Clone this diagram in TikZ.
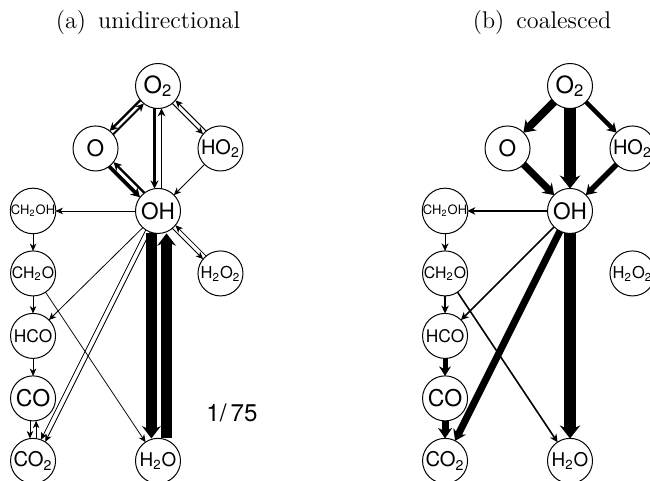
\documentclass[tikz,border=0pt]{standalone}
\usepackage{fontspec}
\newfontfamily\helv{TeX Gyre Heros}
\usetikzlibrary{positioning,calc,arrows.meta}

\tikzset{
  species/.style={circle, draw, line width=0.45pt, minimum size=20.5pt, inner sep=0pt},
  txt/.style={font=\helv\fontsize{#1}{#1}\selectfont},
  flux/.style={-{Stealth[length=3.2pt 0.5, width=2.5pt 1.25, inset=0.9pt 0.2]}, shorten <=10.2pt, shorten >=10.2pt},
  lw/.style={line width=#1*0.455pt},
  caption/.style={font=\fontsize{11}{13}\selectfont}
}
% offset arrow between two species: [style]{from}{to}{offset to the right}
\newcommand{\flux}[4][]{\draw[flux,#1] ($(#2)!#4!-90:(#3)$) -- ($(#3)!#4!90:(#2)$);}

\begin{document}
\begin{tikzpicture}[x=0.016cm, y=-0.016cm, node distance=1cm and 1cm, on grid]
        \useasboundingbox (0,0) rectangle (650,480);

        % Captions
        \node[caption] (capa) at (148,22) {(a)\enspace unidirectional};
        \node[caption] (capb) at (542,22) {(b)\enspace coalesced};

        % Species (a)
        \node[species, txt=10.8] (O2a) at (158,86) {O\textsubscript{2}};
        \node[species, txt=10.3, below left=of O2a] (Oa) {O};
        \node[species, txt=9.1, below right=of O2a] (HO2a) {HO\textsubscript{2}};
        \node[species, txt=10.3, below=2cm of O2a] (OHa) {OH};
        \node[species, txt=5.9, left=2cm of OHa] (CH2OHa) {CH\textsubscript{2}OH};
        \node[species, txt=7.5, below right=of OHa] (H2O2a) {H\textsubscript{2}O\textsubscript{2}};
        \node[species, txt=7.2, below=of CH2OHa] (CH2Oa) {CH\textsubscript{2}O};
        \node[species, txt=7.9, below=of CH2Oa] (HCOa) {HCO};
        \node[species, txt=10.5, below=of HCOa] (COa) {CO};
        \node[species, txt=9.2, below=of COa] (CO2a) {CO\textsubscript{2}};
        \node[species, txt=8.6, below=4cm of OHa] (H2Oa) {H\textsubscript{2}O};

        % Ratio
        \node[txt=11] (ratio) at (232,413) {1/\,75};

        % Fluxes (a)
        \flux[lw=2.3]{O2a}{Oa}{1.1pt}
        \flux[lw=1.9]{Oa}{O2a}{1.1pt}
        \flux[lw=3.8]{Oa}{OHa}{1.4pt}
        \flux[lw=2.3]{OHa}{Oa}{1.4pt}
        \flux[lw=2.1]{O2a}{OHa}{1.6pt}
        \flux[lw=1.7]{OHa}{O2a}{1.6pt}
        \flux[lw=1]{O2a}{HO2a}{1pt}
        \flux[lw=1]{HO2a}{O2a}{1pt}
        \flux[lw=0.8]{HO2a}{OHa}{0pt}
        \flux[lw=0.8]{OHa}{CH2OHa}{0pt}
        \flux[lw=0.8]{CH2OHa}{CH2Oa}{0pt}
        \flux[lw=0.8]{CH2Oa}{HCOa}{0pt}
        \flux[lw=0.8]{HCOa}{COa}{0pt}
        \flux[lw=0.8]{COa}{CO2a}{1.4pt}
        \flux[lw=0.8]{CO2a}{COa}{1.4pt}
        \flux[lw=0.8]{OHa}{HCOa}{0pt}
        \flux[lw=0.8]{CH2Oa}{H2Oa}{0pt}
        \flux[lw=0.8]{OHa}{CO2a}{1.1pt}
        \flux[lw=0.8]{OHa}{CO2a}{-1.1pt}
        \flux[lw=0.8]{OHa}{H2O2a}{1pt}
        \flux[lw=0.8]{H2O2a}{OHa}{1pt}
        \flux[lw=10.5]{OHa}{H2Oa}{3pt}
        \flux[lw=10.5]{H2Oa}{OHa}{3.9pt}

        % Species (b)
        \node[species, txt=10.8] (O2b) at (570,86) {O\textsubscript{2}};
        \node[species, txt=10.3, below left=of O2b] (Ob) {O};
        \node[species, txt=9.1, below right=of O2b] (HO2b) {HO\textsubscript{2}};
        \node[species, txt=10.3, below=2cm of O2b] (OHb) {OH};
        \node[species, txt=5.9, left=2cm of OHb] (CH2OHb) {CH\textsubscript{2}OH};
        \node[species, txt=7.5, below right=of OHb] (H2O2b) {H\textsubscript{2}O\textsubscript{2}};
        \node[species, txt=7.2, below=of CH2OHb] (CH2Ob) {CH\textsubscript{2}O};
        \node[species, txt=7.9, below=of CH2Ob] (HCOb) {HCO};
        \node[species, txt=10.5, below=of HCOb] (COb) {CO};
        \node[species, txt=9.2, below=of COb] (CO2b) {CO\textsubscript{2}};
        \node[species, txt=8.6, below=4cm of OHb] (H2Ob) {H\textsubscript{2}O};

        % Fluxes (b)
        \flux[lw=8]{O2b}{Ob}{0pt}
        \flux[lw=12]{O2b}{OHb}{0pt}
        \flux[lw=4.5]{O2b}{HO2b}{0pt}
        \flux[lw=7]{Ob}{OHb}{0pt}
        \flux[lw=5.5]{HO2b}{OHb}{0pt}
        \flux[lw=1.6]{OHb}{CH2OHb}{0pt}
        \flux[lw=1.1]{CH2OHb}{CH2Ob}{0pt}
        \flux[lw=1.6]{CH2Ob}{HCOb}{0pt}
        \flux[lw=1.6]{OHb}{HCOb}{0pt}
        \flux[lw=1.6]{CH2Ob}{H2Ob}{0pt}
        \flux[lw=5]{HCOb}{COb}{0pt}
        \flux[lw=7]{COb}{CO2b}{0pt}
        \flux[lw=7]{OHb}{CO2b}{0pt}
        \flux[lw=12]{OHb}{H2Ob}{0pt}
\end{tikzpicture}
\end{document}
